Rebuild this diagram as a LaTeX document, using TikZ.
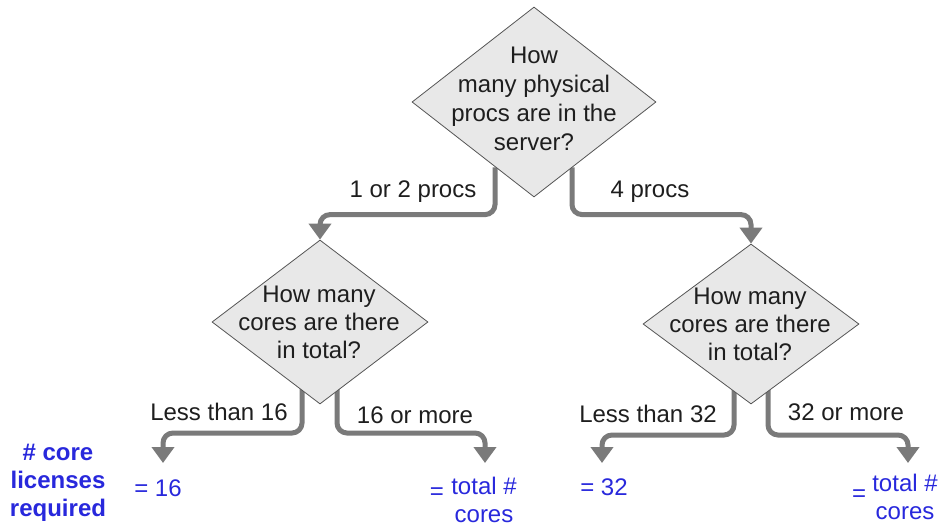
\documentclass[tikz,border=0pt]{standalone}
\usepackage{fontspec}
\setmainfont{Liberation Sans}
\usetikzlibrary{shapes.geometric,arrows.meta,calc}
\definecolor{conncol}{RGB}{122,122,122}
\definecolor{ansblue}{RGB}{40,40,220}
\definecolor{diafill}{RGB}{232,232,232}
\definecolor{diadraw}{RGB}{85,85,85}
\definecolor{txt}{RGB}{30,30,30}
\begin{document}
\begin{tikzpicture}[x=1pt,y=-1pt,
  dia/.style={diamond, draw=diadraw, fill=diafill, line width=0.8pt, inner sep=0pt},
  qtext/.style={align=center, font=\fontsize{24}{29}\selectfont, text=txt, inner sep=0pt},
  lab/.style={font=\fontsize{24}{29}\selectfont, text=txt, inner sep=0pt},
  ans/.style={font=\fontsize{24}{28}\selectfont, text=ansblue, align=center, inner sep=0pt},
  eqs/.style={font=\fontsize{24}{26}\selectfont, text=ansblue, inner sep=0pt},
  connector/.style={draw=conncol, line width=5pt, rounded corners=10pt, -{Triangle[width=22pt,length=16pt]}}]
\path[use as bounding box] (0,0) rectangle (944,527);

\path (534,102) coordinate (c1);
\path (320,322) coordinate (c2);
\path (751,324) coordinate (c3);

% endpoints of bottom arrows
\coordinate (t1) at (163,463);
\coordinate (t2) at (485,463);
\coordinate (t3) at (602,463);
\coordinate (t4) at (908,463);

% invisible helper nodes for diamond anchors
\node[dia, draw=none, fill=none, minimum width=244pt, minimum height=190pt] (q1g) at (c1) {};
\node[dia, draw=none, fill=none, minimum width=216pt, minimum height=164pt] (q2g) at (c2) {};
\node[dia, draw=none, fill=none, minimum width=216pt, minimum height=160pt] (q3g) at (c3) {};

% connectors
\draw[connector] ($(q1g.south)+(-39,-30)$) |- ($(q2g.north)+(0,-25)$) -- (q2g.north);
\draw[connector] ($(q1g.south)+(38,-30)$) |- ($(q3g.north)+(0,-29)$) -- (q3g.north);
\draw[connector] ($(q2g.south)+(-18,-20)$) |- ($(t1)+(0,-30)$) -- (t1);
\draw[connector] ($(q2g.south)+(17,-20)$) |- ($(t2)+(0,-30)$) -- (t2);
\draw[connector] ($(q3g.south)+(-17,-20)$) |- ($(t3)+(0,-28)$) -- (t3);
\draw[connector] ($(q3g.south)+(17,-20)$) |- ($(t4)+(0,-28)$) -- (t4);

% diamonds
\node[dia, minimum width=244pt, minimum height=190pt] (q1) at (c1) {};
\node[dia, minimum width=216pt, minimum height=164pt] (q2) at (c2) {};
\node[dia, minimum width=216pt, minimum height=160pt] (q3) at (c3) {};

\node[qtext] (q1t) at (534,99) {How\\many physical\\procs are in the\\server?};
\node[qtext, font=\fontsize{24}{28}\selectfont] (q2t) at (319,322) {How many\\cores are there\\in total?};
\node[qtext, font=\fontsize{24}{28}\selectfont] (q3t) at (750,324) {How many\\cores are there\\in total?};

% branch labels
\node[lab] (l1) at (413,192) {1 or 2 procs};
\node[lab] (l2) at (650,192) {4 procs};
\node[lab] (l3) at (219,412) {Less than 16};
\node[lab] (l4) at (415,415) {16 or more};
\node[lab] (l5) at (648,414) {Less than 32};
\node[lab] (l6) at (846,412) {32 or more};

% answers
\node[ans, font=\bfseries\fontsize{24}{28}\selectfont] (req) at (58,483) {\# core\\licenses\\required};
\node[ans] (r1) at (158,488) {= 16};
\node[ans] (r2) at (484,500) {total \#\\cores};
\node[eqs] (e2) at (437,494) {=};
\node[ans] (r3) at (604,487) {= 32};
\node[ans] (r4) at (905,497) {total \#\\cores};
\node[eqs] (e4) at (859,496) {=};
\end{tikzpicture}
\end{document}
